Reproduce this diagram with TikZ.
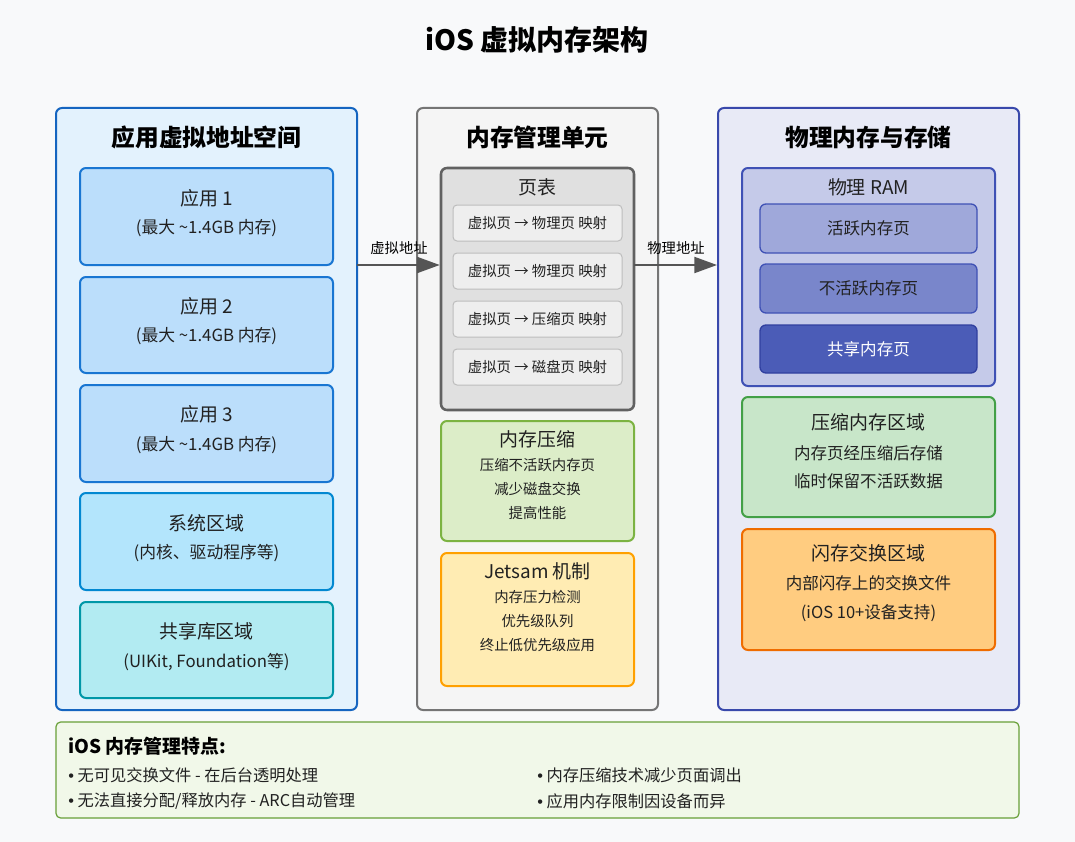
\documentclass[tikz,border=0pt]{standalone}
\usepackage{fontspec}
\setmainfont{Noto Sans CJK SC}
\newfontfamily\lat{Liberation Sans}
\usetikzlibrary{arrows.meta,fit}
\definecolor{bgc}{HTML}{F8F9FA}
\definecolor{lpF}{HTML}{E3F2FD}\definecolor{lpD}{HTML}{1565C0}
\definecolor{appF}{HTML}{BBDEFB}\definecolor{appD}{HTML}{1976D2}
\definecolor{sysF}{HTML}{B3E5FC}\definecolor{sysD}{HTML}{0288D1}
\definecolor{shF}{HTML}{B2EBF2}\definecolor{shD}{HTML}{0097A7}
\definecolor{mpF}{HTML}{F5F5F5}\definecolor{mpD}{HTML}{757575}
\definecolor{ptF}{HTML}{E0E0E0}\definecolor{ptD}{HTML}{616161}
\definecolor{enF}{HTML}{EEEEEE}\definecolor{enD}{HTML}{BDBDBD}
\definecolor{cmF}{HTML}{DCEDC8}\definecolor{cmD}{HTML}{7CB342}
\definecolor{jtF}{HTML}{FFECB3}\definecolor{jtD}{HTML}{FFA000}
\definecolor{rpF}{HTML}{E8EAF6}\definecolor{rpD}{HTML}{3949AB}
\definecolor{ramF}{HTML}{C5CAE9}\definecolor{ramD}{HTML}{3F51B5}
\definecolor{acF}{HTML}{9FA8DA}\definecolor{inF}{HTML}{7986CB}
\definecolor{spF}{HTML}{4B5CB7}\definecolor{spD}{HTML}{303F9F}
\definecolor{crF}{HTML}{C8E6C9}\definecolor{crD}{HTML}{43A047}
\definecolor{flF}{HTML}{FFCC80}\definecolor{flD}{HTML}{EF6C00}
\definecolor{btF}{HTML}{F1F8E9}\definecolor{btD}{HTML}{689F38}
\definecolor{txt}{HTML}{212121}
\definecolor{arrc}{HTML}{555555}
\begin{document}
\begin{tikzpicture}[x=0.75pt,y=-0.75pt,
  box/.style={draw, rounded corners=4.5pt, line width=1.5pt, inner sep=0pt},
  thinbox/.style={draw, rounded corners=3pt, line width=0.75pt, inner sep=0pt},
  ttl/.style={font=\fontsize{21}{24}\selectfont\bfseries, text=black, inner sep=0pt},
  ptitle/.style={font=\fontsize{17.8}{20}\selectfont\bfseries, text=black, inner sep=0pt},
  btitle/.style={font=\fontsize{14.2}{16}\selectfont, text=txt, inner sep=0pt},
  bsub/.style={font=\fontsize{12.6}{14}\selectfont, text=txt, inner sep=0pt},
  rsub/.style={font=\fontsize{12.4}{14}\selectfont, text=txt, inner sep=0pt},
  small/.style={font=\fontsize{10.8}{12}\selectfont, text=txt, inner sep=0pt},
  lbl/.style={font=\fontsize{10.7}{12}\selectfont, text=black, inner sep=0pt},
  arr/.style={draw=arrc, line width=1.5pt, -{Triangle[length=17pt,width=12pt]}},
  bul/.style={font=\fontsize{12.2}{14}\selectfont, text=txt, inner sep=0pt, anchor=west}]
\fill[bgc] (0,0) rectangle (1075,842);
\useasboundingbox (0,0) rectangle (1075,842);

\node[ttl] (title) at (537,40) {iOS 虚拟内存架构};

% left panel
\node[box, fill=lpF, draw=lpD, fit={(56,108)(357,710)}] (lp) {};
\node[ptitle] (lpt) at (206.5,137) {应用虚拟地址空间};
\node[box, fill=appF, draw=appD, fit={(80,168)(333,265)}] (app1) {};
\node[btitle] (app1t) at (206.5,198) {应用 1};
\node[bsub] (app1s) at (206.5,228) {(最大 \textasciitilde1.4GB 内存)};
\node[box, fill=appF, draw=appD, fit={(80,277)(333,373)}] (app2) {};
\node[btitle] (app2t) at (206.5,306) {应用 2};
\node[bsub] (app2s) at (206.5,336) {(最大 \textasciitilde1.4GB 内存)};
\node[box, fill=appF, draw=appD, fit={(80,385)(333,482)}] (app3) {};
\node[btitle] (app3t) at (206.5,414) {应用 3};
\node[bsub] (app3s) at (206.5,445) {(最大 \textasciitilde1.4GB 内存)};
\node[box, fill=sysF, draw=sysD, fit={(80,493)(333,590)}] (sys) {};
\node[btitle] (syst) at (206.5,523) {系统区域};
\node[bsub] (syss) at (206.5,553) {(内核、驱动程序等)};
\node[box, fill=shF, draw=shD, fit={(80,602)(333,698)}] (shl) {};
\node[btitle] (shlt) at (206.5,631) {共享库区域};
\node[bsub] (shls) at (206.5,662) {(UIKit, Foundation等)};

% middle panel
\node[box, fill=mpF, draw=mpD, fit={(417,108)(658,710)}] (mp) {};
\node[ptitle] (mpt) at (537.5,137) {内存管理单元};
\node[box, fill=ptF, draw=ptD, line width=1.9pt, fit={(441,168)(634,410)}] (pt) {};
\node[btitle] (ptt) at (537.5,187) {页表};
\node[thinbox, fill=enF, draw=enD, fit={(453,205)(622,241)}] (e1) {};
\node[small] at (e1) {虚拟页 → 物理页 映射};
\node[thinbox, fill=enF, draw=enD, fit={(453,253)(622,289)}] (e2) {};
\node[small] at (e2) {虚拟页 → 物理页 映射};
\node[thinbox, fill=enF, draw=enD, fit={(453,301)(622,337)}] (e3) {};
\node[small] at (e3) {虚拟页 → 压缩页 映射};
\node[thinbox, fill=enF, draw=enD, fit={(453,349)(622,385)}] (e4) {};
\node[small] at (e4) {虚拟页 → 磁盘页 映射};
\node[box, fill=cmF, draw=cmD, fit={(441,421)(634,541)}] (cmp) {};
\node[btitle] (cmpt) at (537.5,439) {内存压缩};
\node[small] at (537.5,465) {压缩不活跃内存页};
\node[small] at (537.5,489) {减少磁盘交换};
\node[small] at (537.5,513) {提高性能};
\node[box, fill=jtF, draw=jtD, fit={(441,553)(634,686)}] (jet) {};
\node[btitle] (jett) at (537.5,571) {Jetsam 机制};
\node[small] at (537.5,597) {内存压力检测};
\node[small] at (537.5,621) {优先级队列};
\node[small] at (537.5,645) {终止低优先级应用};

% right panel
\node[box, fill=rpF, draw=rpD, fit={(718,108)(1019,710)}] (rp) {};
\node[ptitle] (rpt) at (868.5,137) {物理内存与存储};
\node[box, fill=ramF, draw=ramD, fit={(742,168)(995,386)}] (ram) {};
\node[btitle] (ramt) at (868.5,187) {物理 RAM};
\node[box, line width=1pt, fill=acF, draw=ramD, fit={(760,204)(977,253)}] (act) {};
\node[rsub] at (act) {活跃内存页};
\node[box, line width=1pt, fill=inF, draw=ramD, fit={(760,264)(977,313)}] (ina) {};
\node[rsub] at (ina) {不活跃内存页};
\node[box, line width=1pt, fill=spF, draw=spD, fit={(760,325)(977,373)}] (shp) {};
\node[rsub, text=white] at (shp) {共享内存页};
\node[box, fill=crF, draw=crD, fit={(742,397)(995,517)}] (cr) {};
\node[btitle] (crt) at (868.5,422) {压缩内存区域};
\node[rsub] at (868.5,453) {内存页经压缩后存储};
\node[rsub] at (868.5,481) {临时保留不活跃数据};
\node[box, fill=flF, draw=flD, fit={(742,529)(995,650)}] (fl) {};
\node[btitle] (flt) at (868.5,553) {闪存交换区域};
\node[rsub] at (868.5,583) {内部闪存上的交换文件};
\node[rsub] at (868.5,613) {(iOS 10+设备支持)};

% arrows
\coordinate (a1) at (357,265);
\coordinate (a2) at (634,265);
\draw[arr] (a1) -- (pt.west |- a1);
\draw[arr] (a2) -- (rp.west |- a2);
\node[lbl] at (399,248) {虚拟地址};
\node[lbl] at (676,248) {物理地址};

% bottom box
\node[draw=btD, fill=btF, line width=0.9pt, rounded corners=3.5pt, inner sep=0pt, fit={(56,722)(1019,818)}] (bt) {};
\node[font=\fontsize{14.2}{16}\selectfont\bfseries, text=black, inner sep=0pt, anchor=west] at (68,746) {iOS 内存管理特点:};
\node[bul] at (68,775) {{\lat •} 无可见交换文件 - 在后台透明处理};
\node[bul] at (68,801) {{\lat •} 无法直接分配/释放内存 - ARC自动管理};
\node[bul] at (537,775) {{\lat •} 内存压缩技术减少页面调出};
\node[bul] at (537,801) {{\lat •} 应用内存限制因设备而异};
\end{tikzpicture}
\end{document}
